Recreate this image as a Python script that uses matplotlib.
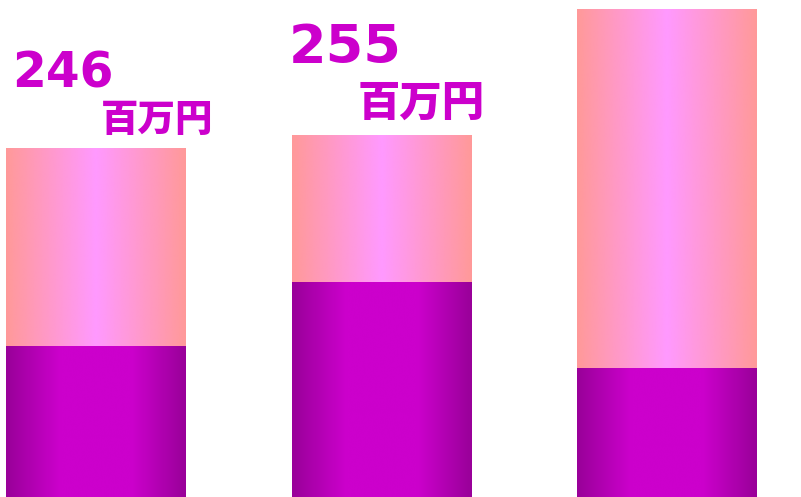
import numpy as np
import matplotlib
matplotlib.use("Agg")
import matplotlib.pyplot as plt
from matplotlib.colors import LinearSegmentedColormap

plt.rcParams['font.family'] = ['Noto Sans CJK JP', 'DejaVu Sans']

# data (bar segment heights)
categories = ["A", "B", "C"]
bottom_vals = [151, 215, 129]
top_vals = [198, 147, 359]
label_vals = ["246", "255"]
unit_label = "百万円"

dark_cmap = LinearSegmentedColormap.from_list(
    "dark", [(0, "#990099"), (0.3, "#CC00CC"), (0.7, "#CC00CC"), (1, "#990099")])
light_cmap = LinearSegmentedColormap.from_list(
    "light", [(0, "#FF9999"), (0.5, "#FF99FF"), (1, "#FF9999")])

fig = plt.figure(figsize=(8.01, 4.97), dpi=100)
ax = fig.add_axes([0, 0, 1, 1])
ax.set_axis_off()

width = 0.63
grad = np.linspace(0, 1, 256).reshape(1, -1)
x = np.arange(len(categories))
for i in x:
    b = bottom_vals[i]
    t = top_vals[i]
    ax.imshow(grad, cmap=dark_cmap, aspect="auto", interpolation="bicubic",
              extent=(i - width / 2, i + width / 2, 0, b))
    ax.imshow(grad, cmap=light_cmap, aspect="auto", interpolation="bicubic",
              extent=(i - width / 2, i + width / 2, b, b + t))

ax.set_xlim(-96 / 285.5, (801 - 96) / 285.5)
ax.set_ylim(0, 497)

W, H = 801, 497
col = "#CC00CC"
num_font = ['DejaVu Sans']
# labels for first two bars
fig.text(12 / W, (H - 87) / H, label_vals[0], color=col, fontsize=35,
         fontweight="bold", family=num_font, va="baseline", ha="left")
fig.text(101 / W, (H - 131) / H, unit_label, color=col, fontsize=27,
         fontweight=900, va="baseline", ha="left")
fig.text(289 / W, (H - 63) / H, label_vals[1], color=col, fontsize=39,
         fontweight="bold", family=num_font, va="baseline", ha="left")
fig.text(358 / W, (H - 116) / H, unit_label, color=col, fontsize=30.5,
         fontweight=900, va="baseline", ha="left")

fig.savefig("out.png", dpi=100)
